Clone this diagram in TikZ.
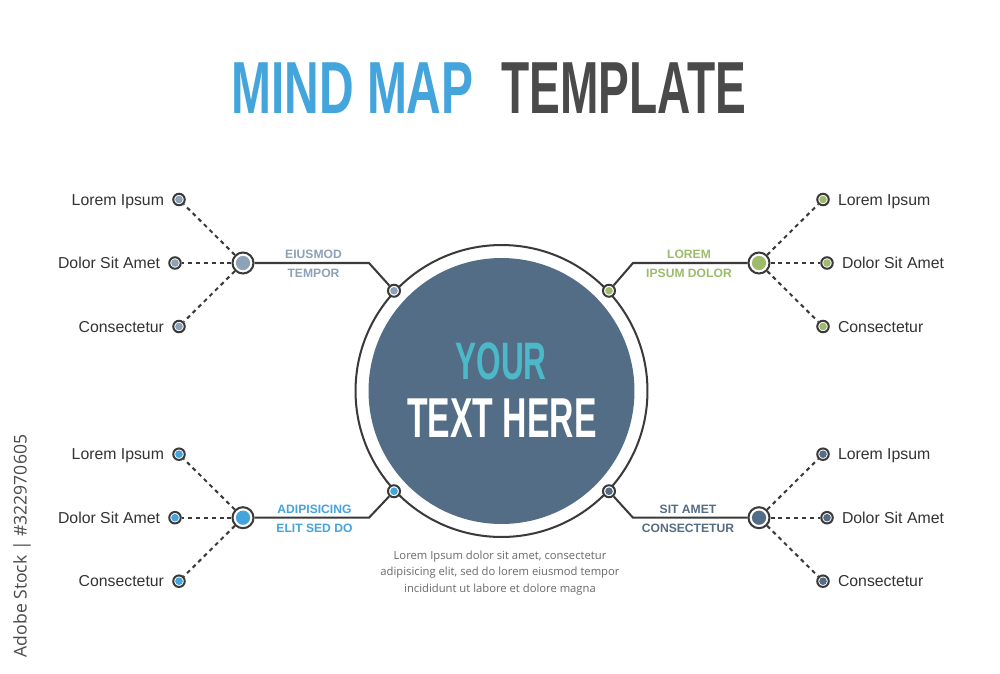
\documentclass[tikz,border=0pt]{standalone}
\usepackage{fontspec}
\setmainfont{Liberation Sans}
\newfontfamily\notefont{Open Sans}
\usetikzlibrary{positioning}
\definecolor{lineg}{HTML}{3A3A3A}
\definecolor{txtg}{HTML}{333333}
\definecolor{mapblue}{HTML}{44A4DC}
\definecolor{titleg}{HTML}{4A4A4A}
\definecolor{slate}{HTML}{546D86}
\definecolor{yourteal}{HTML}{4CB9C9}
\definecolor{greyblue}{HTML}{8DA1B7}
\definecolor{olive}{HTML}{9DBB6A}
\definecolor{noteg}{HTML}{6A6A6A}
\tikzset{
  knob/.style n args={3}{circle,draw=lineg,line width=1.15pt,fill=white,inner sep=0pt,
    minimum size=#2,path picture={\fill[#1] (path picture bounding box.center) circle (#3);}},
  leaf/.style={knob={#1}{0.23cm}{0.076cm}},
  hub/.style={knob={#1}{0.42cm}{0.142cm}},
  ringdot/.style={knob={#1}{0.24cm}{0.076cm}},
  branch/.style={draw=lineg,line width=1.15pt},
  twig/.style={branch,dash pattern=on 2.3pt off 2.2pt},
  lbl/.style={text=txtg,font=\fontsize{9}{10}\selectfont,inner sep=0pt,text height=6.5pt,text depth=0pt},
  tag/.style={text=#1,font=\fontsize{6.9}{8}\selectfont\bfseries,inner sep=0pt,text height=5pt,text depth=0pt}
}
\begin{document}
\begin{tikzpicture}[x=0.02cm,y=-0.02cm]
  \path[fill=white] (0,0) rectangle (1000,673);
  \node[anchor=east,inner sep=0pt,text=mapblue,font=\fontsize{42}{42}\selectfont\bfseries] (title1) at (474,88.5) {\scalebox{0.65}[1]{MIND MAP}};
  \node[anchor=west,inner sep=0pt,text=titleg,font=\fontsize{42}{42}\selectfont\bfseries] (title2) at (501,88.5) {\scalebox{0.625}[1]{TEMPLATE}};
  \node[circle,draw=lineg,line width=1.15pt,minimum size=5.84cm,inner sep=0pt] (ring) at (501.5,391) {};
  \node[circle,fill=slate,minimum size=5.32cm,inner sep=0pt] (core) at (501.5,391) {};
  \node[inner sep=0pt,text=yourteal,font=\fontsize{30}{30}\selectfont\bfseries] (your) at (501,361) {\scalebox{0.6}[1]{YOUR}};
  \node[inner sep=0pt,text=white,font=\fontsize{32}{32}\selectfont\bfseries] (here) at (502,418) {\scalebox{0.6}[1]{TEXT HERE}};
  \node[ringdot=greyblue] (rd1) at (ring.137) {};
  \node[ringdot=olive] (rd2) at (ring.43) {};
  \node[ringdot=mapblue] (rd3) at (ring.223) {};
  \node[ringdot=slate] (rd4) at (ring.317) {};
  \coordinate (bend1) at (369,263);
  \coordinate (bend2) at (633,263);
  \coordinate (bend3) at (369,517.7);
  \coordinate (bend4) at (633,517.7);
  \foreach \h/\col/\hy in {a/greyblue/263,c/mapblue/517.7} {
    \node[hub=\col] (\h) at (243,\hy) {};
    \foreach \k/\dx/\dy/\t in {1/64/-63.5/Lorem Ipsum,2/68/0/Dolor Sit Amet,3/64/63.5/Consectetur} {
      \node[leaf=\col] (\h\k) at (243-\dx,\hy+\dy) {};
      \node[lbl,left=4.5pt of \h\k] (\h\k-t) {\t};
      \draw[twig] (\h) -- (\h\k);
    }
  }
  \foreach \h/\col/\hy in {b/olive/263,d/slate/517.7} {
    \node[hub=\col] (\h) at (759,\hy) {};
    \foreach \k/\dx/\dy/\t in {1/64/-63.5/Lorem Ipsum,2/68/0/Dolor Sit Amet,3/64/63.5/Consectetur} {
      \node[leaf=\col] (\h\k) at (759+\dx,\hy+\dy) {};
      \node[lbl,right=4.5pt of \h\k] (\h\k-t) {\t};
      \draw[twig] (\h) -- (\h\k);
    }
  }
  \draw[branch] (rd1) -- (bend1) -- (a);
  \draw[branch] (rd2) -- (bend2) -- (b);
  \draw[branch] (rd3) -- (bend3) -- (c);
  \draw[branch] (rd4) -- (bend4) -- (d);
  \node[tag=greyblue] (a-u) at (313.5,254) {EIUSMOD};
  \node[tag=greyblue] (a-l) at (313.5,273.3) {TEMPOR};
  \node[tag=olive] (b-u) at (689,254) {LOREM};
  \node[tag=olive] (b-l) at (689,273.3) {IPSUM DOLOR};
  \node[tag=mapblue] (c-u) at (314.5,509) {ADIPISICING};
  \node[tag=mapblue] (c-l) at (314.5,528.3) {ELIT SED DO};
  \node[tag=slate] (d-u) at (688,509) {SIT AMET};
  \node[tag=slate] (d-l) at (688,528.3) {CONSECTETUR};
  \node[align=center,text=noteg,font=\notefont\fontsize{6.4}{9.6}\selectfont] (note) at (500,573) {Lorem Ipsum dolor sit amet, consectetur\\adipisicing elit, sed do lorem eiusmod tempor\\incididunt ut labore et dolore magna};
  \node[rotate=90,text=titleg,font=\notefont\fontsize{10}{10}\selectfont] (stock) at (22,546) {Adobe Stock | \#322970605};
\end{tikzpicture}
\end{document}
